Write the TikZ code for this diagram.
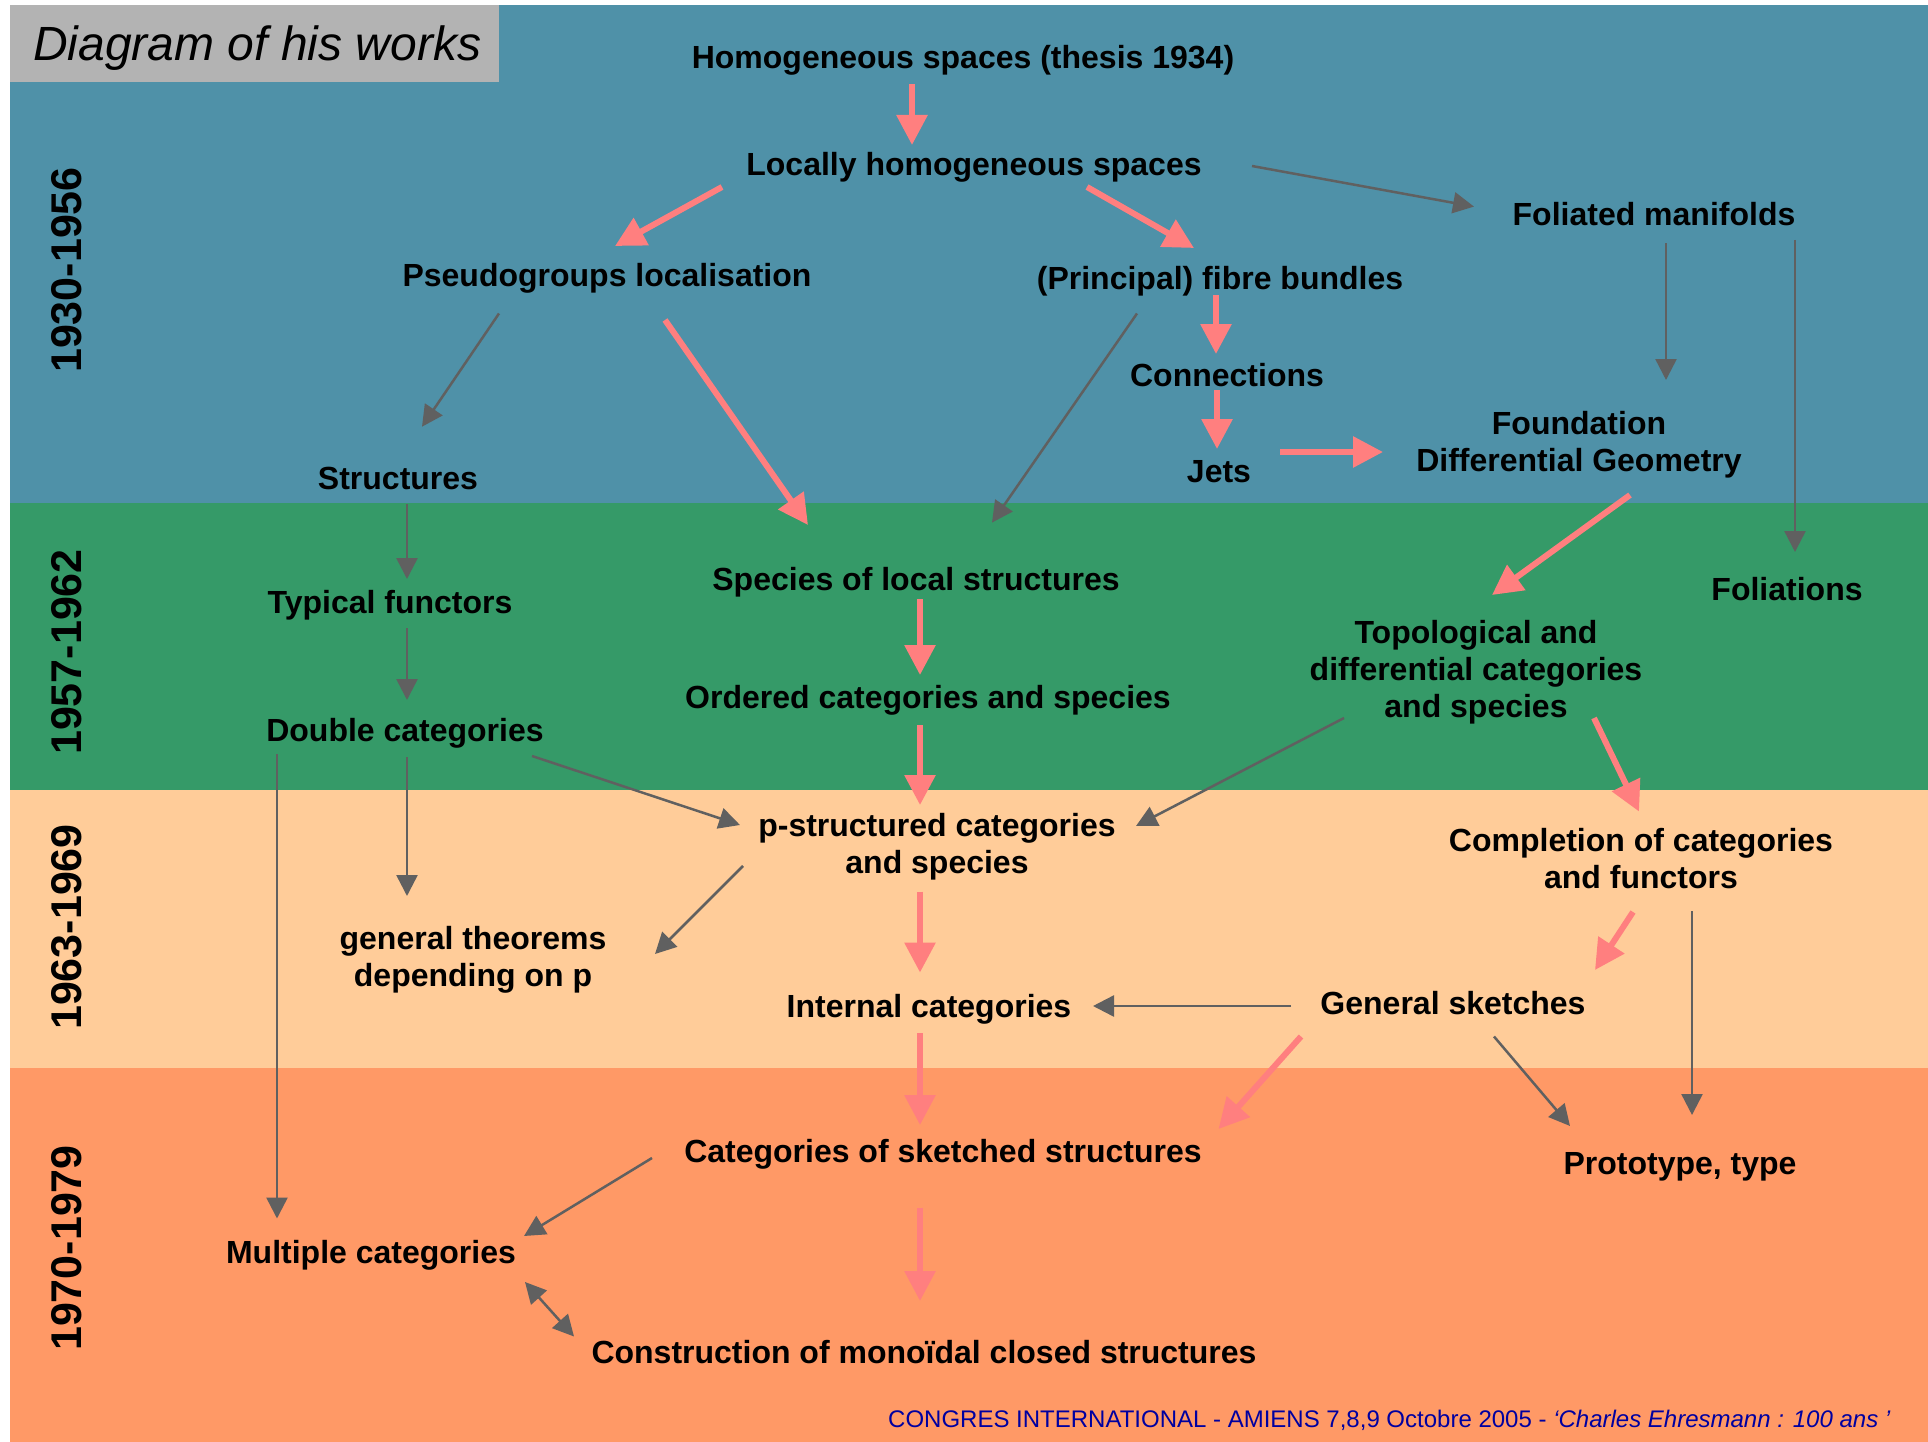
\documentclass[tikz,border=0pt]{standalone}
\usepackage{fontspec}
\setmainfont{Liberation Sans}
\usetikzlibrary{arrows.meta}
\definecolor{bandA}{RGB}{79,145,168}
\definecolor{bandB}{RGB}{53,154,104}
\definecolor{bandC}{RGB}{255,204,153}
\definecolor{bandD}{RGB}{255,153,102}
\definecolor{titlegray}{RGB}{179,179,179}
\definecolor{pinkarrow}{RGB}{255,127,127}
\definecolor{grayarrow}{RGB}{96,96,96}
\definecolor{footblue}{RGB}{0,0,160}
\begin{document}
\begin{tikzpicture}[x=1pt,y=-1pt,
  work/.style={font=\fontsize{32}{37}\selectfont\bfseries, inner sep=0pt, text height=27.5pt, text depth=4.5pt},
  mwork/.style={font=\fontsize{32}{37}\selectfont\bfseries, inner sep=0pt, align=center},
  era/.style={font=\fontsize{43}{43}\selectfont\bfseries, rotate=90, inner sep=0pt},
  strong/.style={draw=pinkarrow, line width=6pt, -{Triangle[length=30pt,width=30pt]}},
  weak/.style={draw=grayarrow, line width=2.5pt, -{Triangle[length=21pt,width=21pt]}},
  weakboth/.style={draw=grayarrow, line width=2.5pt, {Triangle[length=21pt,width=21pt]}-{Triangle[length=21pt,width=21pt]}},
]
% page and period bands
\useasboundingbox (0,0) rectangle (1928,1442);
\fill[white] (0,0) rectangle (1928,1442);
\fill[bandA] (10,5) rectangle (1928,503);
\fill[bandB] (10,503) rectangle (1928,790);
\fill[bandC] (10,790) rectangle (1928,1068);
\fill[bandD] (10,1068) rectangle (1928,1442);
\fill[titlegray] (10,5) rectangle (499,82);
\node[anchor=base west, inner sep=0pt, font=\fontsize{48}{48}\selectfont\itshape] (title) at (33,61) {Diagram of his works};

% periods
\node[era] (p1) at (67,270) {1930-1956};
\node[era] (p2) at (67,652) {1957-1962};
\node[era] (p3) at (67,927) {1963-1969};
\node[era] (p4) at (67,1248) {1970-1979};

% works
\node[work] (homog) at (963,57) {Homogeneous spaces (thesis 1934)};
\node[work] (loc) at (974,164) {Locally homogeneous spaces};
\node[work] (fol) at (1654,214) {Foliated manifolds};
\node[work] (pseudo) at (607,275) {Pseudogroups localisation};
\node[work] (fibre) at (1220,278) {(Principal) fibre bundles};
\node[work] (conn) at (1227,375) {Connections};
\node[mwork] (found) at (1579,445) {Foundation\\Differential Geometry};
\node[work] (jets) at (1219,471) {Jets};
\node[work] (struct) at (398,478) {Structures};
\node[work] (species) at (916,579) {Species of local structures};
\node[work] (folns) at (1787,589) {Foliations};
\node[work] (typical) at (390,602) {Typical functors};
\node[mwork] (topo) at (1476,672) {Topological and\\differential categories\\and species};
\node[work] (ordered) at (928,697) {Ordered categories and species};
\node[work] (double) at (405,730) {Double categories};
\node[mwork] (pstruct) at (937,847) {p-structured categories\\and species};
\node[mwork] (compl) at (1641,859) {Completion of categories\\and functors};
\node[mwork] (general) at (473,960) {general theorems\\depending on p};
\node[work] (internal) at (929,1006) {Internal categories};
\node[work] (sketches) at (1453,1003) {General sketches};
\node[work] (catsk) at (943,1151) {Categories of sketched structures};
\node[work] (proto) at (1680,1163) {Prototype, type};
\node[work] (multiple) at (371,1252) {Multiple categories};
\node[work] (constr) at (924,1352) {Construction of monoïdal closed structures};

% main line of descent
\draw[strong] ([shift={(-51,27)}]homog.center) -- ([shift={(-62,-19)}]loc.center);
\draw[strong] ([shift={(-252,23)}]loc.center) -- ([shift={(8,-29)}]pseudo.center);
\draw[strong] ([shift={(113,23)}]loc.center) -- ([shift={(-26,-30)}]fibre.center);
\draw[strong] ([shift={(-4,17)}]fibre.center) -- ([shift={(-11,-21)}]conn.center);
\draw[strong] ([shift={(-10,15)}]conn.center) -- ([shift={(-2,-22)}]jets.center);
\draw[strong] ([shift={(61,-19)}]jets.center) -- ([shift={(-196,7)}]found.center);
\draw[strong] ([shift={(58,45)}]pseudo.center) -- ([shift={(-108,-54)}]species.center);
\draw[strong] ([shift={(51,50)}]found.center) -- ([shift={(16,-77)}]topo.center);
\draw[strong] ([shift={(4,20)}]species.center) -- ([shift={(-8,-22)}]ordered.center);
\draw[strong] ([shift={(-8,28)}]ordered.center) -- ([shift={(-17,-42)}]pstruct.center);
\draw[strong] ([shift={(118,46)}]topo.center) -- ([shift={(-2,-47.5)}]compl.center);
\draw[strong] ([shift={(-17,44.5)}]pstruct.center) -- ([shift={(-9,-33.5)}]internal.center);
\draw[strong] ([shift={(-8,53)}]compl.center) -- ([shift={(142,-33)}]sketches.center);
\draw[strong] ([shift={(-9,27)}]internal.center) -- ([shift={(-23,-26)}]catsk.center);
\draw[strong] ([shift={(-152,33.5)}]sketches.center) -- ([shift={(275.5,-22)}]catsk.center);
\draw[strong] ([shift={(-23,56.5)}]catsk.center) -- ([shift={(-4,-51)}]constr.center);

% secondary influences
\draw[weak] ([shift={(278,2)}]loc.center) -- ([shift={(-180,-7.4)}]fol.center);
\draw[weak] ([shift={(12,29.5)}]fol.center) -- ([shift={(87,-65)}]found.center);
\draw[weak] ([shift={(141,26)}]fol.center) -- ([shift={(8,-37)}]folns.center);
\draw[weak] ([shift={(-108,38.5)}]pseudo.center) -- ([shift={(24,-51.3)}]struct.center);
\draw[weak] ([shift={(-83,35.5)}]fibre.center) -- ([shift={(76,-56.4)}]species.center);
\draw[weak] ([shift={(9,26)}]struct.center) -- ([shift={(17,-23)}]typical.center);
\draw[weak] ([shift={(17,26)}]typical.center) -- ([shift={(2,-30)}]double.center);
\draw[weak] ([shift={(127,26)}]double.center) -- ([shift={(-197,-22)}]pstruct.center);
\draw[weak] ([shift={(2,27)}]double.center) -- ([shift={(-66,-64)}]general.center);
\draw[weak] ([shift={(-128,24)}]double.center) -- ([shift={(-94,-33.5)}]multiple.center);
\draw[weak] ([shift={(-132,46)}]topo.center) -- ([shift={(199,-21)}]pstruct.center);
\draw[weak] ([shift={(-194,19)}]pstruct.center) -- ([shift={(182,-6)}]general.center);
\draw[weak] ([shift={(-162,3)}]sketches.center) -- ([shift={(164,0)}]internal.center);
\draw[weak] ([shift={(51,52)}]compl.center) -- ([shift={(12,-48)}]proto.center);
\draw[weak] ([shift={(41,33.5)}]sketches.center) -- ([shift={(-110,-37)}]proto.center);
\draw[weak] ([shift={(-291,7)}]catsk.center) -- ([shift={(153,-16)}]multiple.center);
\draw[weakboth] ([shift={(154,30)}]multiple.center) -- ([shift={(-350,-15.5)}]constr.center);

% footer
\node[anchor=base west, inner sep=0pt, text=footblue, font=\fontsize{24}{24}\selectfont] (footer) at (888,1427)
  {CONGRES INTERNATIONAL - AMIENS 7,8,9 Octobre 2005 - \textit{‘Charles Ehresmann : 100 ans ’}};
\end{tikzpicture}
\end{document}
